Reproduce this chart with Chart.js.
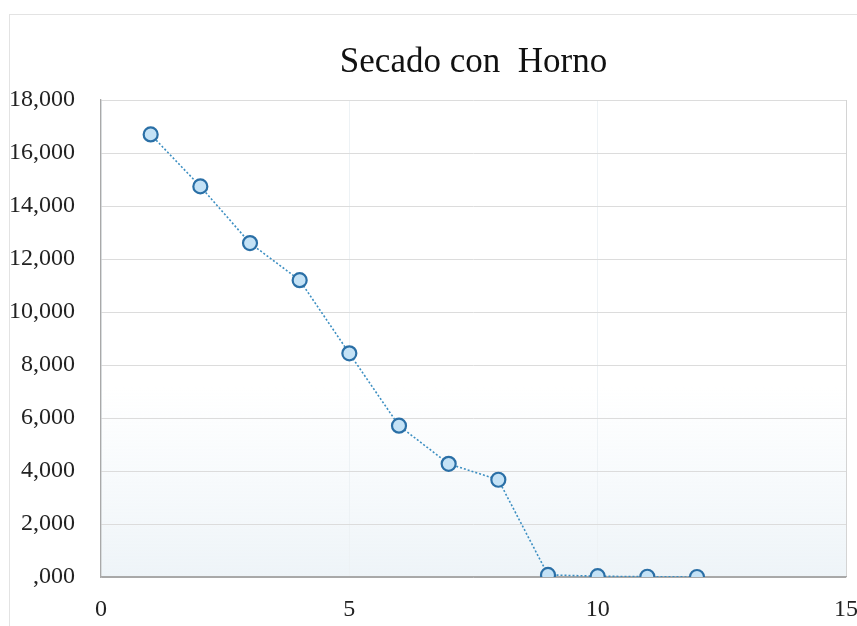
<!DOCTYPE html>
<html>
<head>
<meta charset="utf-8">
<script src="https://cdn.jsdelivr.net/npm/chart.js@4.4.1/dist/chart.umd.min.js"></script>
<style>
  html, body { margin: 0; padding: 0; background: #fff; overflow: hidden; }
  #wrap { width: 857px; height: 626px; }
</style>
</head>
<body>
<div id="wrap"><canvas id="chart"></canvas></div>
<script>
/* =========================================================
   DATA
========================================================= */

const TITLE = "Secado con  Horno";

const steps = [1, 2, 3, 4, 5, 6, 7, 8, 9, 10, 11, 12];
const weights = [16700, 14740, 12600, 11200, 8440, 5710, 4270, 3670, 80, 30, 10, 0];

const xTicks = [0, 5, 10, 15];
const yTicks = [0, 2000, 4000, 6000, 8000, 10000, 12000, 14000, 16000, 18000];

/* =========================================================
   HELPERS
========================================================= */

const SERIF = "'Liberation Serif', 'DejaVu Serif', serif";

function formatThousands(v) {
  // the source writes thousands as "16,000" and zero as ",000"
  return v === 0 ? ",000" : `${v / 1000},000`;
}

// faint outer frame of the chart box, plus a light tint at the plot bottom
const frame = {
  id: "frame",
  beforeDraw(chart) {
    const { ctx, chartArea: a } = chart;
    ctx.save();
    const g = ctx.createLinearGradient(0, a.top + (a.bottom - a.top) * 0.6, 0, a.bottom);
    g.addColorStop(0, "rgba(240,246,250,0)");
    g.addColorStop(1, "rgba(238,244,248,1)");
    ctx.fillStyle = g;
    ctx.fillRect(a.left, a.top, a.right - a.left, a.bottom - a.top);
    ctx.strokeStyle = "#e3e3e3";
    ctx.lineWidth = 1;
    ctx.strokeRect(9.5, 14.5, 860, 620);
    ctx.restore();
  }
};

/* =========================================================
   CHART
========================================================= */

new Chart(document.getElementById("chart"), {
  type: "line",
  data: {
    datasets: [
      {
        data: steps.map((s, i) => ({ x: s, y: weights[i] })),
        borderColor: "#3d8fc2",
        borderWidth: 1.6,
        borderDash: [2, 2],
        pointRadius: 7,
        pointBorderWidth: 2.2,
        pointBackgroundColor: "#c4e2f6",
        pointBorderColor: "#2a6fa6",
        tension: 0
      }
    ]
  },
  plugins: [frame],
  options: {
    responsive: true,
    maintainAspectRatio: false,
    animation: false,
    layout: { padding: 0 },
    plugins: {
      legend: { display: false },
      tooltip: { enabled: false },
      title: {
        display: true,
        text: TITLE,
        fullSize: false,
        color: "#111",
        font: { family: SERIF, size: 35, weight: "normal" },
        padding: { top: 42, bottom: 16 }
      }
    },
    scales: {
      x: {
        type: "linear",
        min: 0,
        max: 15,
        afterBuildTicks: (axis) => {
          axis.ticks = xTicks.map((v) => ({ value: v }));
        },
        afterFit: (axis) => {
          axis.height = 49;
          axis.paddingRight = 11;
        },
        grid: {
          drawTicks: false,
          color: (c) => (c.tick && c.tick.value === 15 ? "#d4d4d4" : "#edf2f5")
        },
        border: { color: "#a9a9a9", width: 1.3 },
        ticks: {
          color: "#222",
          padding: 18,
          maxRotation: 0,
          font: { family: SERIF, size: 24 }
        }
      },
      y: {
        min: 0,
        max: 18000,
        afterBuildTicks: (axis) => {
          axis.ticks = yTicks.map((v) => ({ value: v }));
        },
        afterFit: (axis) => {
          axis.width = 101;
        },
        grid: {
          drawTicks: false,
          color: (c) => (c.tick && c.tick.value === 0 ? "#a9a9a9" : "#dcdcdc")
        },
        border: { color: "#a9a9a9", width: 1.3 },
        ticks: {
          color: "#222",
          padding: 26,
          font: { family: SERIF, size: 24 },
          callback: (v) => formatThousands(v)
        }
      }
    }
  }
});
</script>
</body>
</html>
